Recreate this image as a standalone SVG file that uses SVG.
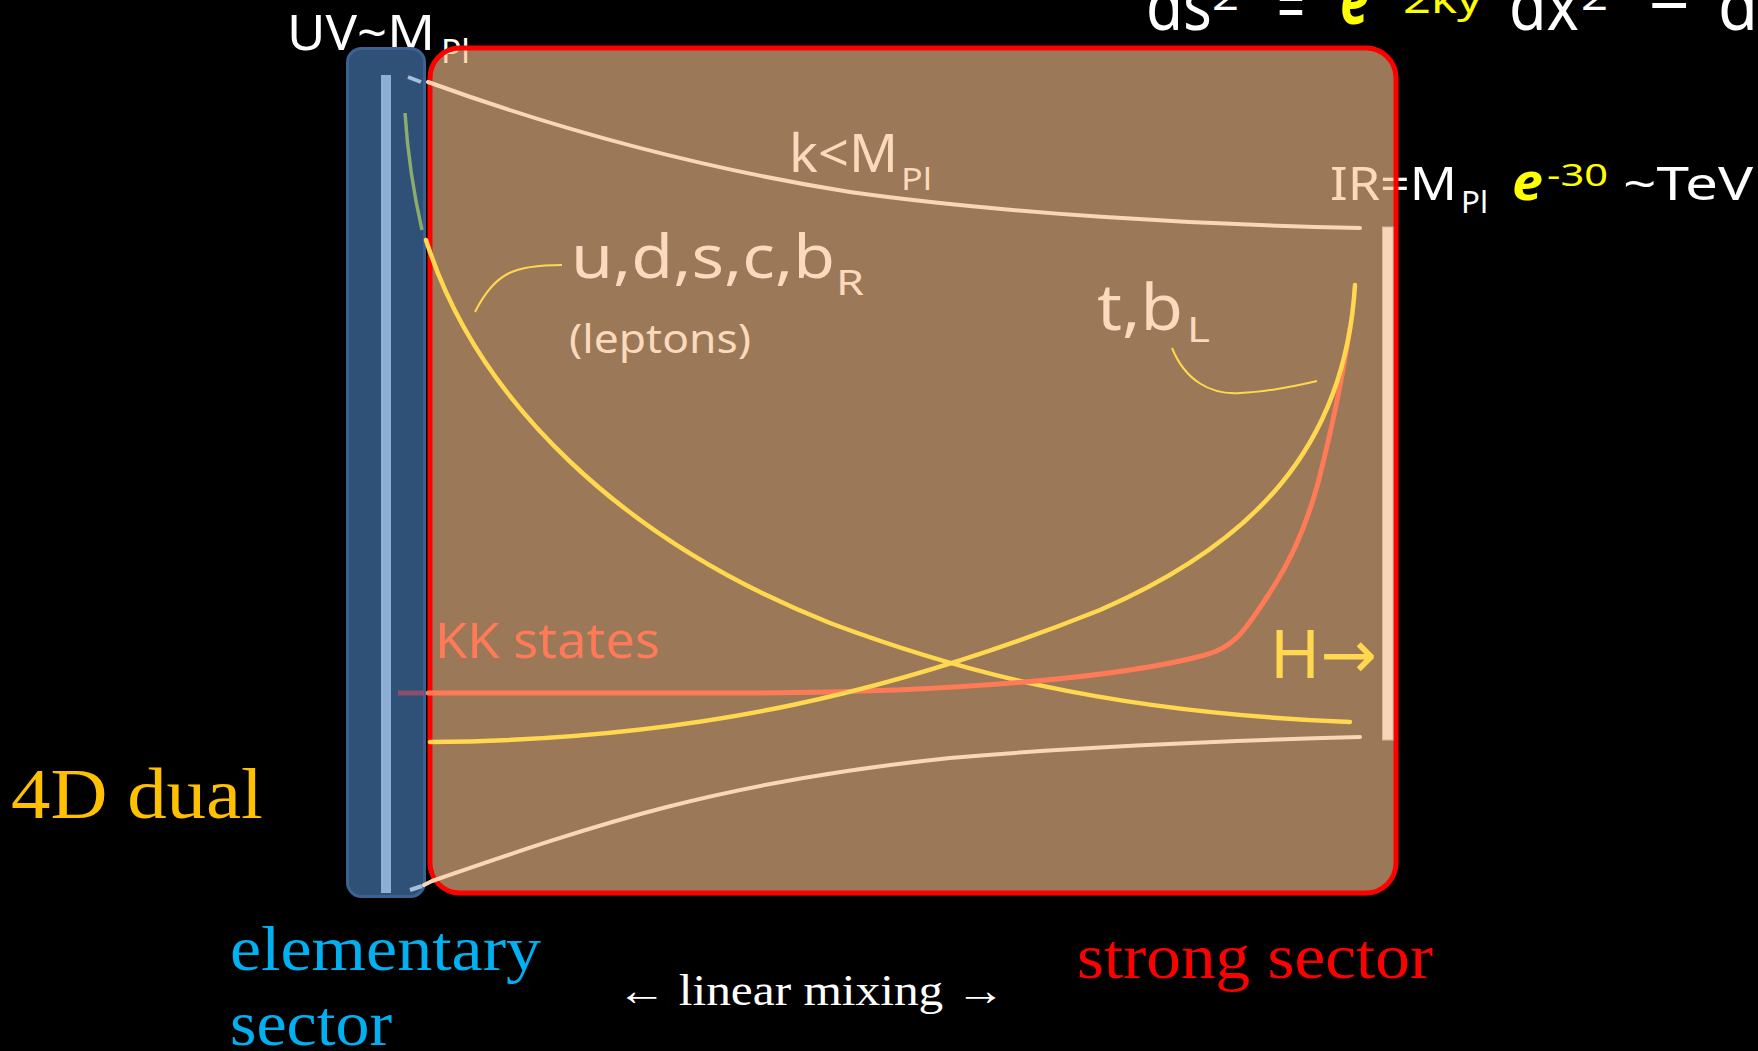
<svg xmlns="http://www.w3.org/2000/svg" width="1758" height="1051" viewBox="0 0 1758 1051">
<style>
.hw{font-family:"Noto Sans","DejaVu Sans",sans-serif;}
.sf{font-family:"Liberation Serif","DejaVu Serif",serif;}
.wh{fill:#ffffff;}
.pe{fill:#FAD9BC;}
.yl{fill:#FFFF00;}
.cy{fill:none;stroke:#FFD84F;stroke-width:4.5;stroke-linecap:round;}
.cp{fill:none;stroke:#FAD6B6;stroke-width:4;stroke-linecap:round;}
.co{fill:none;stroke:#FF7A56;stroke-width:5;stroke-linecap:round;}
.ann{fill:none;stroke:#FFD84F;stroke-width:2;}
</style>
<rect x="0" y="0" width="1758" height="1051" fill="#000000"/>

<g id="equation">
<text class="hw wh" x="1146" y="30" font-size="70" textLength="66" lengthAdjust="spacingAndGlyphs">ds</text>
<text class="hw wh" x="1212" y="10" font-size="38" textLength="27" lengthAdjust="spacingAndGlyphs">2</text>
<text class="hw wh" x="1277" y="30" font-size="70" textLength="28" lengthAdjust="spacingAndGlyphs">=</text>
<text class="hw yl" x="1340" y="24" font-size="70" font-weight="bold" font-style="italic" textLength="29" lengthAdjust="spacingAndGlyphs">e</text>
<text class="hw yl" x="1403" y="13" font-size="38" textLength="79" lengthAdjust="spacingAndGlyphs">2ky</text>
<text class="hw wh" x="1509" y="30" font-size="70" textLength="70" lengthAdjust="spacingAndGlyphs">dx</text>
<text class="hw wh" x="1581" y="10" font-size="38" textLength="27" lengthAdjust="spacingAndGlyphs">2</text>
<text class="hw wh" x="1649" y="30" font-size="70" textLength="41" lengthAdjust="spacingAndGlyphs">−</text>
<text class="hw wh" x="1718" y="30" font-size="70" textLength="40" lengthAdjust="spacingAndGlyphs">d</text>
</g>

<g id="uv-label">
<text class="hw wh" x="287" y="50" font-size="50" textLength="148" lengthAdjust="spacingAndGlyphs">UV~M</text>
<text class="hw wh" x="441" y="63" font-size="32" textLength="29" lengthAdjust="spacingAndGlyphs">Pl</text>
</g>

<g id="ir-label">
<text class="hw wh" x="1330" y="200" font-size="46" textLength="127" lengthAdjust="spacingAndGlyphs">IR=M</text>
<text class="hw wh" x="1461" y="213" font-size="30" textLength="27" lengthAdjust="spacingAndGlyphs">Pl</text>
<text class="hw yl" x="1512" y="200" font-size="52" font-weight="bold" font-style="italic" textLength="31" lengthAdjust="spacingAndGlyphs">e</text>
<text class="hw yl" x="1547" y="186" font-size="30" textLength="61" lengthAdjust="spacingAndGlyphs">-30</text>
<text class="hw wh" x="1623" y="200" font-size="46" textLength="130" lengthAdjust="spacingAndGlyphs">~TeV</text>
</g>

<g id="elementary-brane">
<rect x="347.5" y="48.5" width="77" height="848" rx="14" fill="#2F5077" stroke="#3B6290" stroke-width="3"/>
<rect x="381" y="75" width="10" height="818" fill="#8FAED6"/>
<path d="M408,77 L421,82" stroke="#A6BEDD" stroke-width="4" fill="none"/>
<path d="M405,113 C408,160 414,195 422,230" stroke="#8CAC6C" stroke-width="3.5" fill="none"/>
<path d="M398,693 L424,693" stroke="#8C4E6E" stroke-width="5" fill="none"/>
<path d="M410,890 L422,886" stroke="#A6BEDD" stroke-width="4" fill="none"/>
</g>

<g id="strong-sector">
<rect x="430" y="48" width="966" height="845" rx="30" fill="rgb(248,194,142)" fill-opacity="0.62" stroke="#FF0000" stroke-width="5"/>
<rect x="1382.5" y="227" width="10.5" height="513" fill="#F8D5B8" stroke="#D8B89A" stroke-width="1"/>
</g>

<g id="connectors">
<path class="cp" d="M428,82 C560,130 700,168 850,192 C1000,213 1200,225 1360,228"/>
<path class="cp" d="M424,885 L432,881 C600,823 720,782 950,758 C1100,745 1250,740 1360,737"/>
<path class="cy" d="M426,240 L429,249 C480,400 620,540 830,623 C950,668 1100,712 1350,722"/>
<path class="co" d="M428,693 L760,693 C950,692 1120,678 1205,655 C1235,647 1245,630 1267,597 C1290,562 1305,530 1318,483 C1331,432 1343,375 1350,328"/>
<path class="cy" d="M430,742 C700,740 900,690 1100,610 C1250,545 1345,450 1355,285"/>
<path class="ann" d="M475,312 C495,272 515,265 562,265"/>
<path class="ann" d="M1172,348 C1185,380 1210,395 1240,393 C1270,392 1300,385 1317,381"/>
</g>

<g id="k-label">
<text class="hw pe" x="789" y="172" font-size="52" textLength="109" lengthAdjust="spacingAndGlyphs">k&lt;M</text>
<text class="hw pe" x="901" y="190" font-size="30" textLength="31" lengthAdjust="spacingAndGlyphs">Pl</text>
</g>

<g id="light-fermions">
<text class="hw pe" x="571" y="278" font-size="60" textLength="264" lengthAdjust="spacingAndGlyphs">u,d,s,c,b</text>
<text class="hw pe" x="836" y="295" font-size="34" textLength="28" lengthAdjust="spacingAndGlyphs">R</text>
<text class="hw pe" x="569" y="353" font-size="40" textLength="182" lengthAdjust="spacingAndGlyphs">(leptons)</text>
</g>

<g id="top-bottom">
<text class="hw pe" x="1097" y="330" font-size="64" textLength="86" lengthAdjust="spacingAndGlyphs">t,b</text>
<text class="hw pe" x="1187" y="342" font-size="34" textLength="23" lengthAdjust="spacingAndGlyphs">L</text>
</g>

<g id="kk-states">
<text class="hw" fill="#FF7A56" x="435" y="658" font-size="50" textLength="225" lengthAdjust="spacingAndGlyphs">KK states</text>
</g>

<g id="higgs">
<text class="hw" fill="#FFD850" x="1270" y="678" font-size="68" textLength="107" lengthAdjust="spacingAndGlyphs">H→</text>
</g>

<g id="bottom-labels">
<text class="sf" fill="#FFC000" x="11" y="818" font-size="72" textLength="252" lengthAdjust="spacingAndGlyphs">4D dual</text>
<text class="sf" fill="#00B0F0" x="230" y="970" font-size="64" textLength="311" lengthAdjust="spacingAndGlyphs">elementary</text>
<text class="sf" fill="#00B0F0" x="230" y="1045" font-size="64" textLength="162" lengthAdjust="spacingAndGlyphs">sector</text>
<text class="sf" fill="#FF0000" x="1077" y="978" font-size="64" textLength="356" lengthAdjust="spacingAndGlyphs">strong sector</text>
<text class="sf wh" x="617" y="1005" font-size="44" textLength="388" lengthAdjust="spacingAndGlyphs">← linear mixing →</text>
</g>
</svg>
